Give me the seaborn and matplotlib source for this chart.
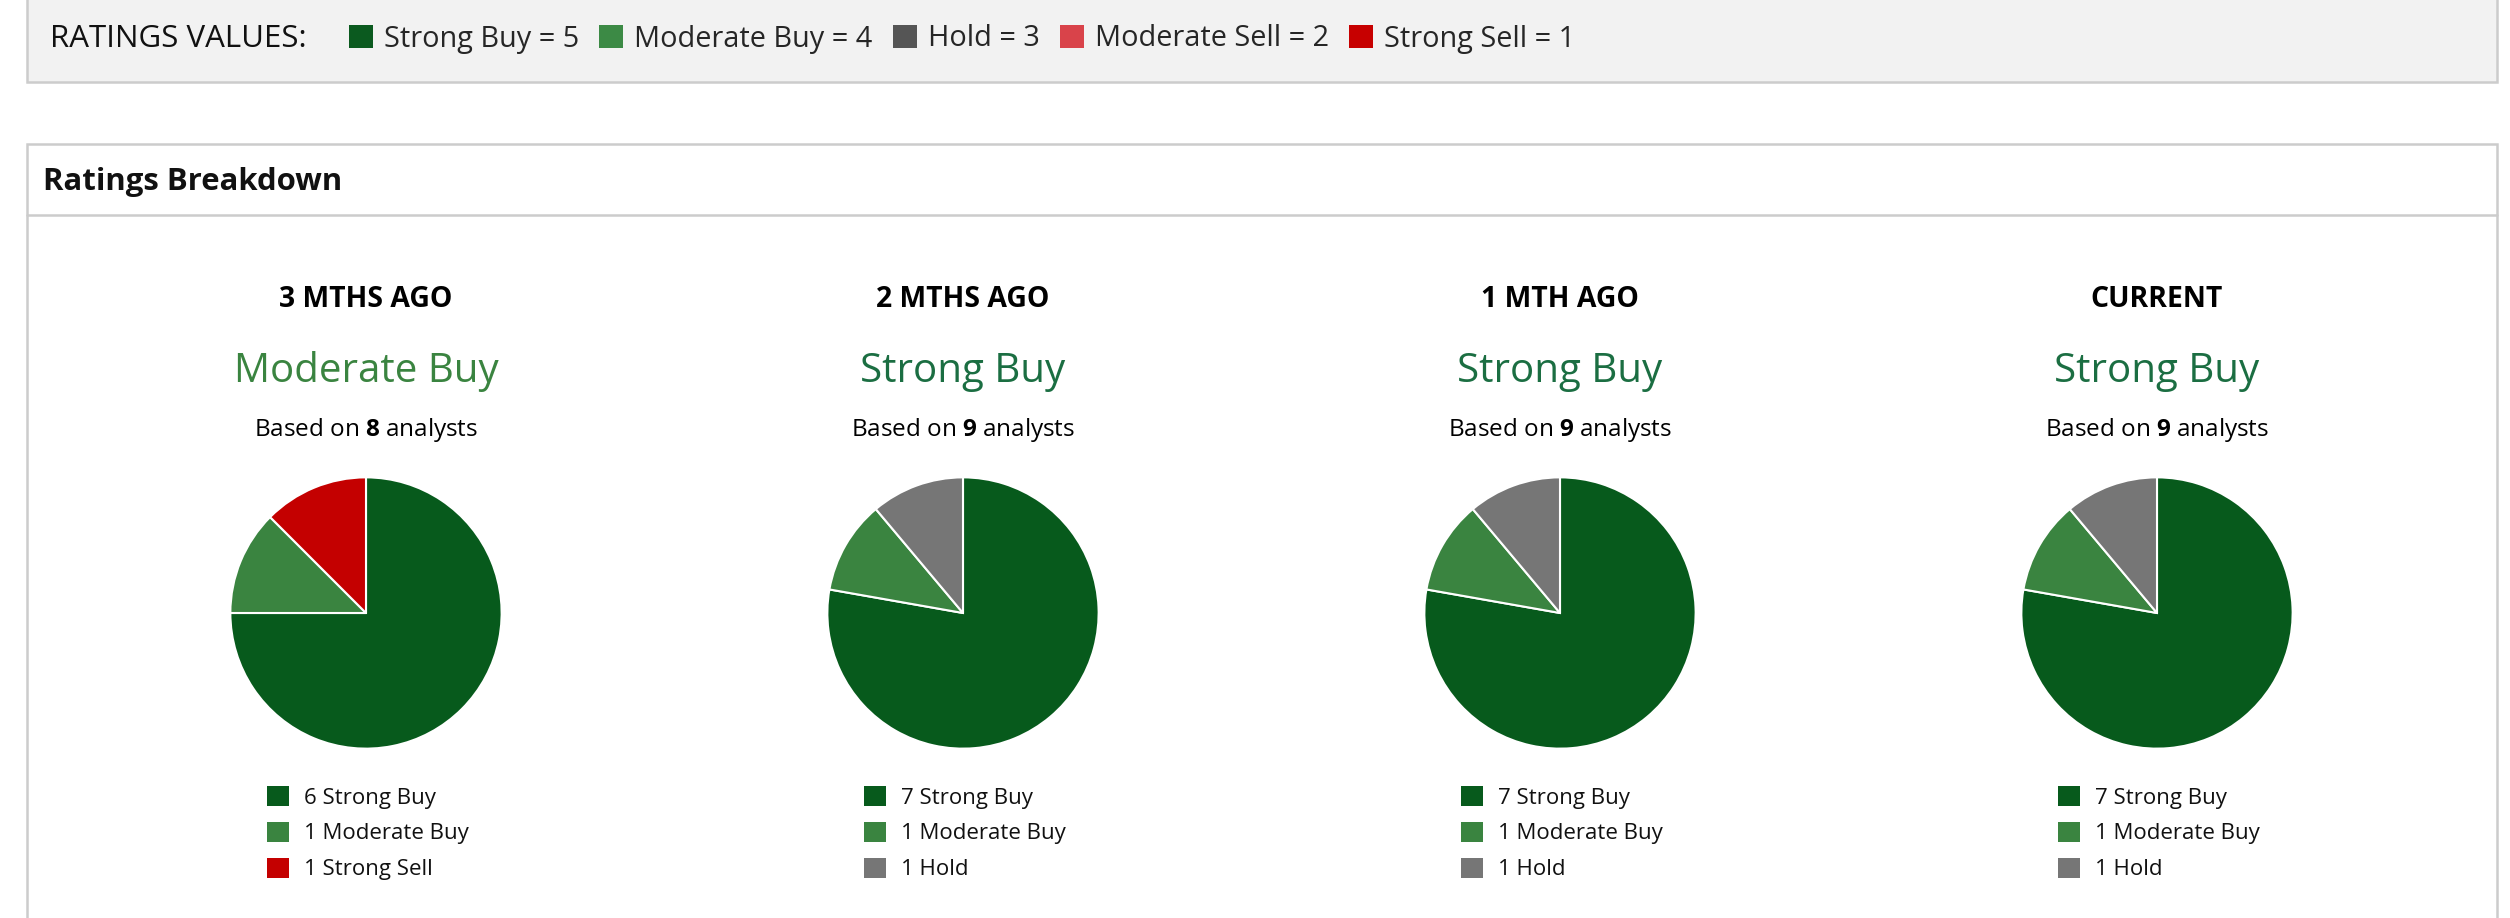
import matplotlib
matplotlib.use("Agg")
import matplotlib.pyplot as plt
from matplotlib.patches import Rectangle, Patch
from matplotlib.lines import Line2D
import seaborn as sns

# ---- data ----
periods = ["3 MTHS AGO", "2 MTHS AGO", "1 MTH AGO", "CURRENT"]
consensus = ["Moderate Buy", "Strong Buy", "Strong Buy", "Strong Buy"]
analysts = [8, 9, 9, 9]

rating_names = ["Strong Buy", "Moderate Buy", "Hold", "Moderate Sell", "Strong Sell"]
rating_values = [5, 4, 3, 2, 1]

strong_buy = [6, 7, 7, 7]
moderate_buy = [1, 1, 1, 1]
hold = [0, 1, 1, 1]
moderate_sell = [0, 0, 0, 0]
strong_sell = [1, 0, 0, 0]

# ---- styling ----
sns.set_theme(style="white")
plt.rcParams["font.family"] = ["Open Sans", "DejaVu Sans"]
plt.rcParams["mathtext.fontset"] = "custom"
plt.rcParams["mathtext.rm"] = "Open Sans"
plt.rcParams["mathtext.bf"] = "Open Sans:bold"

pie_colors = sns.color_palette(["#075a1c", "#3a8440", "#767676", "#d9434a", "#c40000"])
key_colors = sns.color_palette(["#0b5a1f", "#3c8a45", "#555555", "#d9434a", "#c70000"])
consensus_colors = {"Strong Buy": "#1b6e42", "Moderate Buy": "#3a8440"}

W, H = 2510, 918
fig = plt.figure(figsize=(W / 100, H / 100), dpi=100)
fig.patch.set_facecolor("white")


def fx(x):
    return x / W


def fy(y):
    return 1 - y / H


# page boxes (behind everything)
fig.add_artist(Rectangle((fx(27), fy(82)), fx(2497) - fx(27), fy(-10) - fy(82),
                         transform=fig.transFigure, facecolor="#f2f2f2",
                         edgecolor="#cccccc", lw=1.8, zorder=-5))
fig.add_artist(Rectangle((fx(27), fy(930)), fx(2497) - fx(27), fy(144) - fy(930),
                         transform=fig.transFigure, facecolor="white",
                         edgecolor="#cccccc", lw=1.8, zorder=-5))
fig.add_artist(Line2D([fx(27), fx(2497)], [fy(215), fy(215)],
                      transform=fig.transFigure, color="#cccccc", lw=1.8, zorder=-4))

# ratings key
fig.text(fx(50), fy(39), "RATINGS VALUES:", fontsize=22.5, va="center", ha="left", color="#111111")
key_handles = [Patch(facecolor=c, edgecolor="none") for c in key_colors]
key_labels = [f"{n} = {v}" for n, v in zip(rating_names, rating_values)]
fig.legend(key_handles, key_labels, loc="center left", bbox_to_anchor=(fx(349), fy(39)),
           bbox_transform=fig.transFigure, ncol=5, frameon=False, fontsize=20.8,
           handlelength=0.83, handleheight=0.83, handletextpad=0.38,
           columnspacing=0.7, borderpad=0, borderaxespad=0)

fig.text(fx(43), fy(182), "Ratings Breakdown", fontsize=22.4, fontweight="bold",
         va="center", ha="left", color="#111111")

centers = [366, 963, 1560, 2157]
radius = 137
cy = 613

for i, cx in enumerate(centers):
    fig.text(fx(cx), fy(307), periods[i], fontsize=20.4, fontweight="bold",
             ha="center", va="baseline", color="black")
    fig.text(fx(cx), fy(382), consensus[i], fontsize=29.0, ha="center", va="baseline",
             color=consensus_colors[consensus[i]])
    fig.text(fx(cx), fy(436), "Based on $\\mathbf{%d}$ analysts" % analysts[i],
             fontsize=17.5, ha="center", va="baseline", color="black")

    counts = [strong_buy[i], moderate_buy[i], hold[i], moderate_sell[i], strong_sell[i]]
    vals = [c for c in counts if c > 0]
    cols = [pie_colors[k] for k, c in enumerate(counts) if c > 0]
    labs = [f"{c} {rating_names[k]}" for k, c in enumerate(counts) if c > 0]

    ax = fig.add_axes([fx(cx - radius), fy(cy + radius), 2 * radius / W, 2 * radius / H])
    ax.pie(vals, colors=cols, startangle=90, counterclock=False,
           wedgeprops=dict(edgecolor="white", linewidth=1.5))
    ax.set_xlim(-1.01, 1.01)
    ax.set_ylim(-1.01, 1.01)
    ax.axis("off")

    handles = [Patch(facecolor=c, edgecolor="none") for c in cols]
    fig.legend(handles, labs, loc="upper left", bbox_to_anchor=(fx(cx - 99), fy(786)),
               bbox_transform=fig.transFigure, frameon=False, fontsize=16,
               handlelength=1.0, handleheight=1.0, handletextpad=0.65,
               labelspacing=0.6, borderpad=0, borderaxespad=0,
               labelcolor="#111111")

fig.savefig("out.png", dpi=100)
